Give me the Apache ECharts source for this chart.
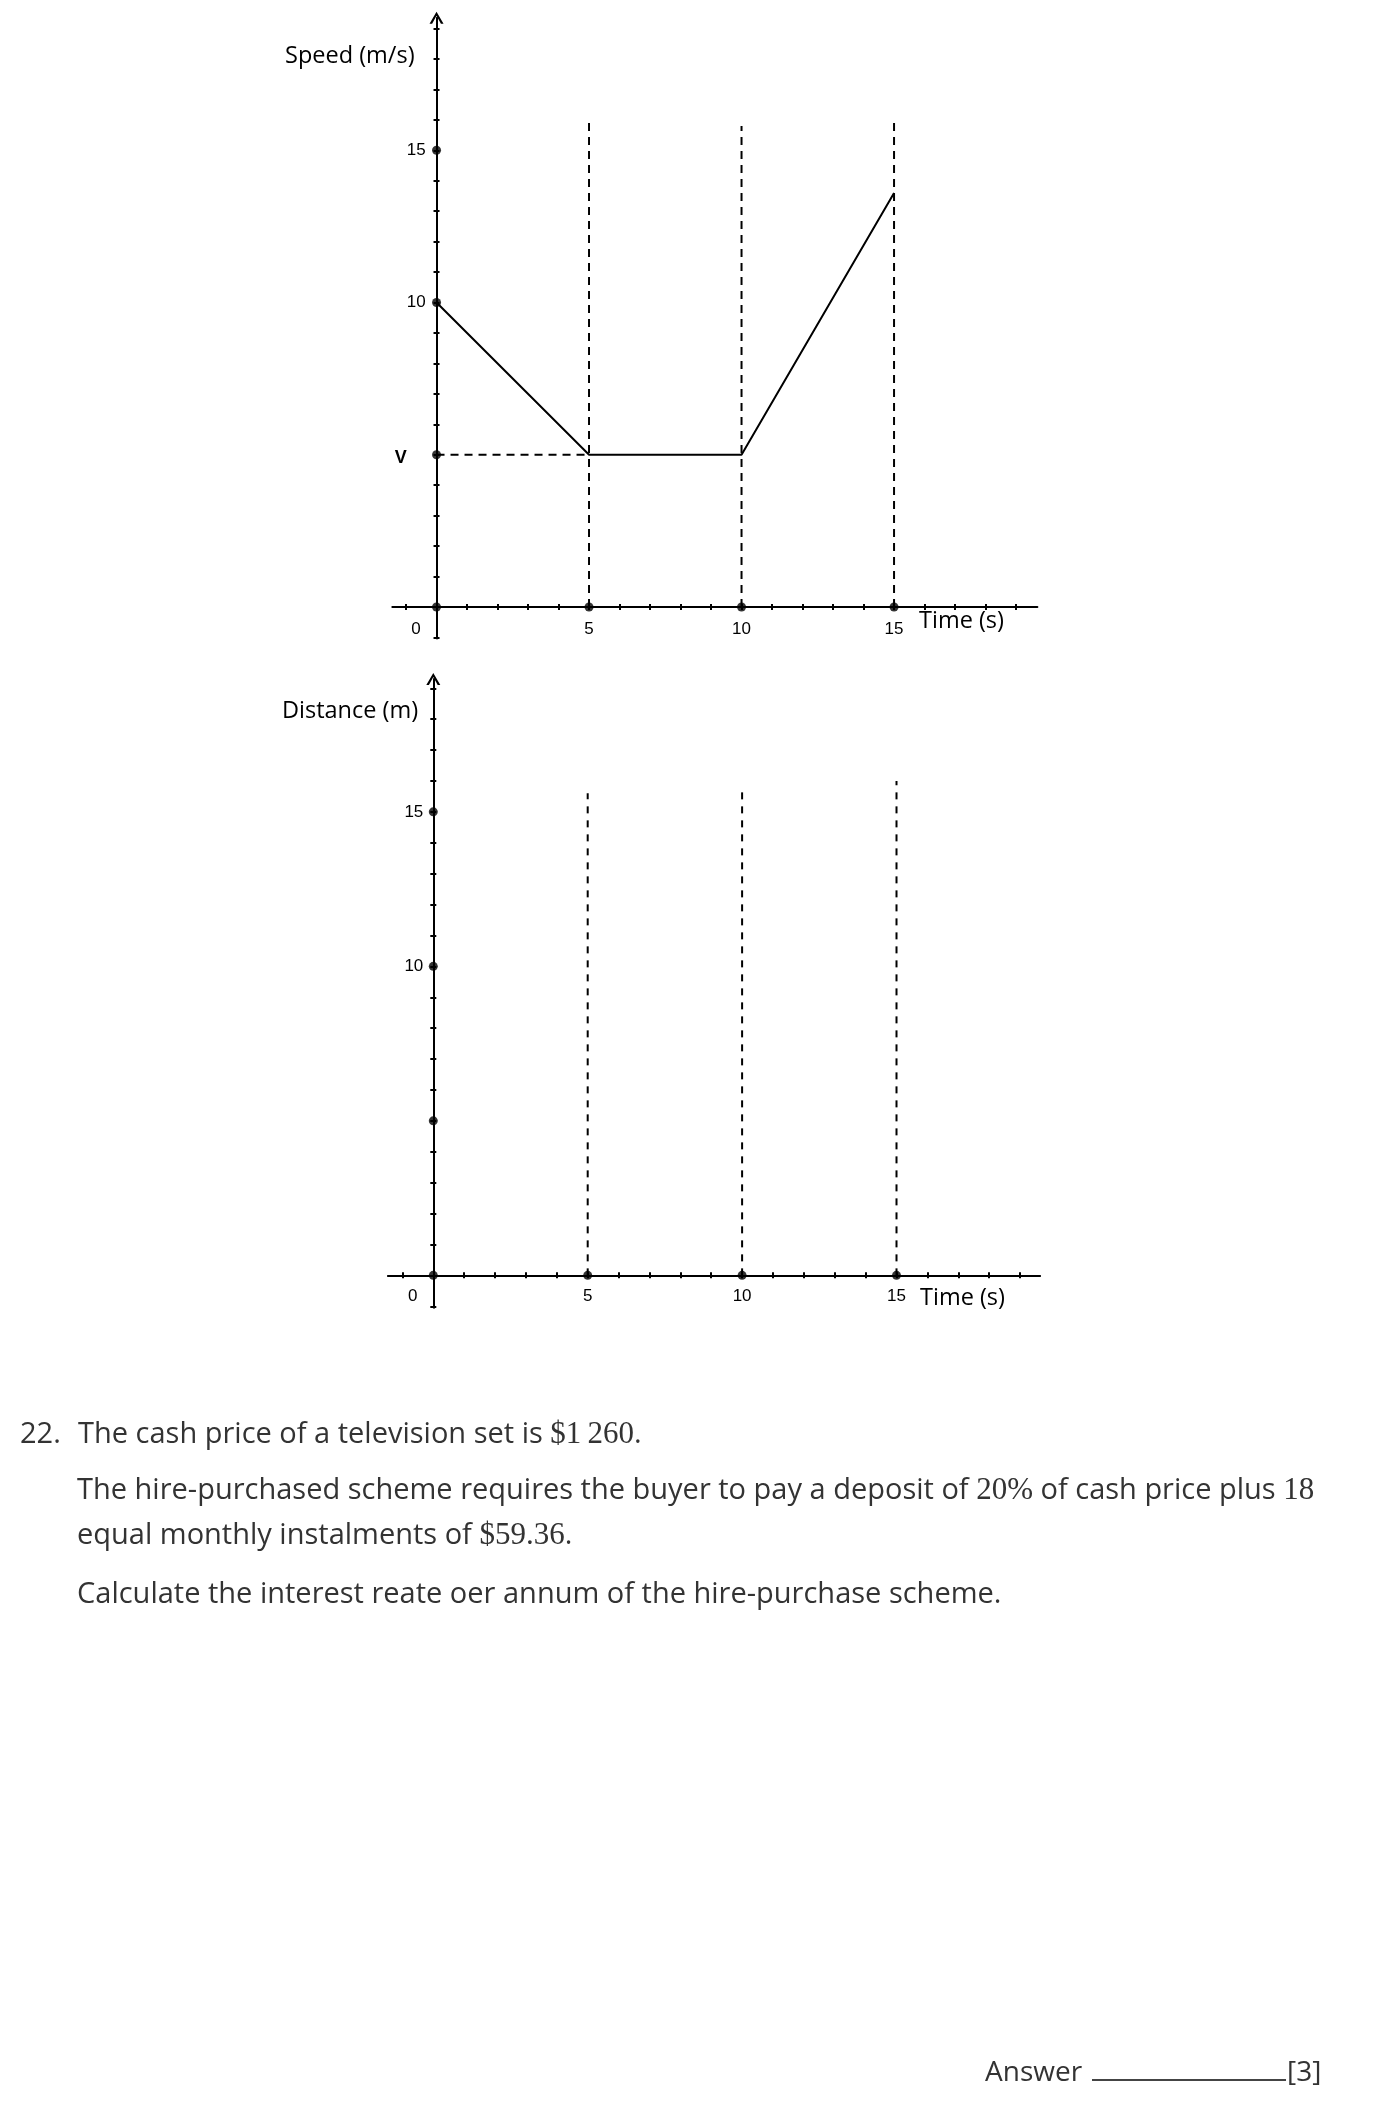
<!DOCTYPE html>
<html><head><meta charset="utf-8">
<script src="https://cdn.jsdelivr.net/npm/echarts@6/dist/echarts.min.js"></script>
<style>
html,body{margin:0;padding:0;background:#fff;}
#chart{position:absolute;left:0;top:0;width:1373px;height:2119px;}
.q{position:absolute;font-family:"Open Sans",sans-serif;font-size:29px;line-height:40px;color:#333;white-space:nowrap;}
.m{font-family:"Liberation Serif",serif;font-size:31px;}
.ul{display:inline-block;width:194px;border-bottom:2px solid #444;height:28px;vertical-align:baseline;margin:0 1px 0 10px;}
</style></head><body>
<div id="chart"></div>
<div class="q" style="left:20px;top:1412px">22.</div>
<div class="q" style="left:78px;top:1412px">The cash price of a television set is <span class="m">$1&#8201;260</span>.</div>
<div class="q" style="left:77px;top:1468px">The hire-purchased scheme requires the buyer to pay a deposit of <span class="m">20%</span> of cash price plus <span class="m">18</span></div>
<div class="q" style="left:77px;top:1513px">equal monthly instalments of <span class="m">$59.36</span>.</div>
<div class="q" style="left:77px;top:1572px">Calculate the interest reate oer annum of the hire-purchase scheme.</div>
<div class="q" style="left:985px;top:2050px;font-size:28px">Answer<span class="ul"></span>[3]</div>
<script>
// ---- data ----
const xTicks = [-1,0,1,2,3,4,5,6,7,8,9,10,11,12,13,14,15,16,17,18,19];
const yTicks = [-1,0,1,2,3,4,5,6,7,8,9,10,11,12,13,14,15,16,17,18,19];
const xLabelValues = [0,5,10,15];
const speedLabelValues = [5,10,15];
const distLabelValues = [10,15];
const speedTimes = [0,5,10,15];
const speedValues = [10,5,5,13.6];
const vLevel = 5;
const guideTimes = [5,10,15];
const speedGuideTops = [16,15.8,16];
const distGuideTops = [15.6,15.65,16];
const speedMarkX = [0,5,10,15,0,0,0];
const speedMarkY = [0,0,0,0,5,10,15];
const distMarkX = [0,5,10,15,0,0,0];
const distMarkY = [0,0,0,0,5,10,15];

const chevron = 'path://M0,12 L7,0 L14,12 L11.4,12 L7,4 L2.6,12 Z';
const LBL_FONT = 'Liberation Sans';

function xAxisFor(gi, min, max, labelMargin) {
  return {
    type: 'value', gridIndex: gi, min: min, max: max, position: 'bottom',
    splitLine: {show: false},
    axisLine: {onZero: true, lineStyle: {color: '#000', width: 2}},
    axisTick: {customValues: xTicks, length: 3, lineStyle: {color: '#000', width: 2}},
    axisLabel: {
      customValues: xLabelValues, margin: labelMargin, color: '#000', fontSize: 17, fontFamily: LBL_FONT,
      formatter: function (v) { return v === 0 ? '{z|0}' : String(v); },
      rich: {z: {padding: [0, 41, 0, 0], fontSize: 17, fontFamily: LBL_FONT, color: '#000'}}
    }
  };
}
function xTickAxisFor(gi, min, max) {
  return {
    type: 'value', gridIndex: gi, min: min, max: max, position: 'top',
    splitLine: {show: false},
    axisLine: {show: false, onZero: true, onZeroAxisIndex: gi},
    axisTick: {show: true, customValues: xTicks, length: 3, lineStyle: {color: '#000', width: 2}},
    axisLabel: {show: false}
  };
}
function yAxisFor(gi, min, max, labels, labelMargin) {
  return {
    type: 'value', gridIndex: gi, min: min, max: max, position: 'left',
    splitLine: {show: false},
    axisLine: {onZero: true, symbol: ['none', chevron], symbolSize: [14, 12], lineStyle: {color: '#000', width: 2}},
    axisTick: {customValues: yTicks, length: 3, lineStyle: {color: '#000', width: 2}},
    axisLabel: {
      customValues: labels, margin: labelMargin, color: '#000', fontSize: 17, fontFamily: LBL_FONT,
      formatter: function (v) { return v === vLevel && gi === 0 ? '{v|V}' : String(v); },
      rich: {v: {fontWeight: 'bold', fontSize: 18, fontFamily: LBL_FONT, color: '#000', padding: [6, 19, 0, 0]}}
    }
  };
}
function yTickAxisFor(gi, min, max) {
  return {
    type: 'value', gridIndex: gi, min: min, max: max, position: 'right',
    splitLine: {show: false},
    axisLine: {show: false, onZero: true, onZeroAxisIndex: gi},
    axisTick: {show: true, customValues: yTicks, length: 3, lineStyle: {color: '#000', width: 2}},
    axisLabel: {show: false}
  };
}

const series = [];
// top chart: speed-time
series.push({
  type: 'line', xAxisIndex: 0, yAxisIndex: 0, symbol: 'none', z: 4,
  lineStyle: {color: '#000', width: 2},
  data: speedTimes.map(function (t, i) { return [t, speedValues[i]]; })
});
series.push({
  type: 'line', xAxisIndex: 0, yAxisIndex: 0, symbol: 'none', z: 3,
  lineStyle: {color: '#000', width: 2, type: [8, 6]},
  data: [[0, vLevel], [speedTimes[1], vLevel]]
});
guideTimes.forEach(function (t, i) {
  series.push({
    type: 'line', xAxisIndex: 0, yAxisIndex: 0, symbol: 'none', z: 3,
    lineStyle: {color: '#000', width: 2, type: [8, 6]},
    data: [[t, 0], [t, speedGuideTops[i]]]
  });
  series.push({
    type: 'line', xAxisIndex: 1, yAxisIndex: 1, symbol: 'none', z: 3,
    lineStyle: {color: '#000', width: 2, type: [7, 7]},
    data: [[t, 0], [t, distGuideTops[i]]]
  });
});
series.push({
  type: 'scatter', xAxisIndex: 0, yAxisIndex: 0, symbol: 'circle', symbolSize: 9, z: 5,
  itemStyle: {color: '#000'},
  data: speedMarkX.map(function (x, i) { return [x, speedMarkY[i]]; })
});
series.push({
  type: 'scatter', xAxisIndex: 1, yAxisIndex: 1, symbol: 'circle', symbolSize: 9, z: 5,
  itemStyle: {color: '#000'},
  data: distMarkX.map(function (x, i) { return [x, distMarkY[i]]; })
});

const titleFont = '"Open Sans", sans-serif';
const option = {
  animation: false,
  backgroundColor: '#fff',
  grid: [
    {left: 392.3, top: 17.8, width: 645.1, height: 620.6},
    {left: 387.9, top: 679, width: 652.2, height: 628.8}
  ],
  xAxis: [
    xAxisFor(0, -1.45, 19.7, -17.5), xAxisFor(1, -1.47, 19.65, -20),
    xTickAxisFor(0, -1.45, 19.7), xTickAxisFor(1, -1.47, 19.65)
  ],
  yAxis: [
    yAxisFor(0, -1.03, 19.35, speedLabelValues, -33.4), yAxisFor(1, -1.05, 19.3, distLabelValues, -35.4),
    yTickAxisFor(0, -1.03, 19.35), yTickAxisFor(1, -1.05, 19.3)
  ],
  graphic: [
    {type: 'text', x: 285, y: 56, style: {text: 'Speed (m/s)', fontSize: 23.5, fontFamily: titleFont, fill: '#000', verticalAlign: 'middle'}},
    {type: 'text', x: 282, y: 711, style: {text: 'Distance (m)', fontSize: 23.5, fontFamily: titleFont, fill: '#000', verticalAlign: 'middle'}},
    {type: 'text', x: 919, y: 621, style: {text: 'Time (s)', fontSize: 23.5, fontFamily: titleFont, fill: '#000', verticalAlign: 'middle'}},
    {type: 'text', x: 920, y: 1298, style: {text: 'Time (s)', fontSize: 23.5, fontFamily: titleFont, fill: '#000', verticalAlign: 'middle'}}
  ],
  series: series
};
const chart = echarts.init(document.getElementById('chart'), null, {renderer: 'canvas'});
chart.setOption(option);
</script>
</body></html>
